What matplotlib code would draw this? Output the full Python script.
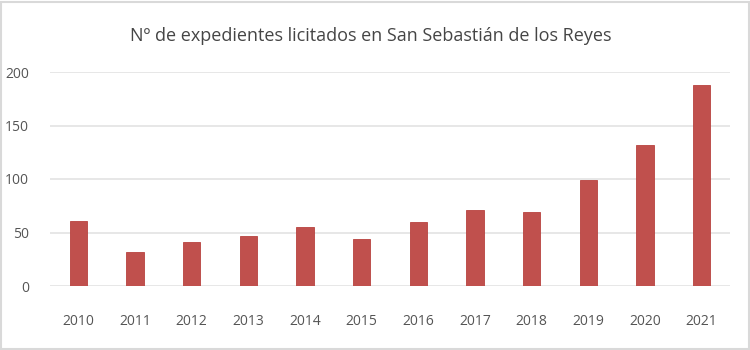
import matplotlib
matplotlib.use("Agg")
import matplotlib.pyplot as plt
from matplotlib.patches import Rectangle

years = ["2010", "2011", "2012", "2013", "2014", "2015", "2016", "2017", "2018", "2019", "2020", "2021"]
values = [61, 32, 41, 47, 55, 44, 60, 71, 69, 99, 132, 188]
yticks = [0, 50, 100, 150, 200]
title = "Nº de expedientes licitados en San Sebastián de los Reyes"

plt.rcParams['font.family'] = ['Open Sans', 'DejaVu Sans']

fig = plt.figure(figsize=(7.5, 3.5), dpi=100)
ax = fig.add_axes([50/750, 1-286/350, 680/750, (286-72)/350])

x = list(range(len(years)))
ax.bar(x, values, width=0.31, color="#C0504D", edgecolor="#B8423F", linewidth=0.6, zorder=3)
ax.set_xlim(-0.5, len(years)-0.5)
ax.set_ylim(0, 200)
ax.set_yticks(yticks)
ax.set_xticks(x)
ax.set_xticklabels(years)
ax.grid(axis='y', color="#E3E3E3", linewidth=1.2, zorder=0)
ax.set_axisbelow(True)
for s in ax.spines.values():
    s.set_visible(False)
ax.tick_params(axis='both', length=0, labelsize=10, colors="#555555")
ax.tick_params(axis='x', pad=20)
ax.tick_params(axis='y', pad=15)

fig.text(371/750, 1-36/350, title, ha='center', va='center', fontsize=13, color="#454545")

fig.patches.append(Rectangle((0.001, 0.003), 0.998, 0.992, transform=fig.transFigure,
                             fill=False, edgecolor="#D9D9D9", linewidth=1.5))

fig.savefig("out.png", dpi=100)
